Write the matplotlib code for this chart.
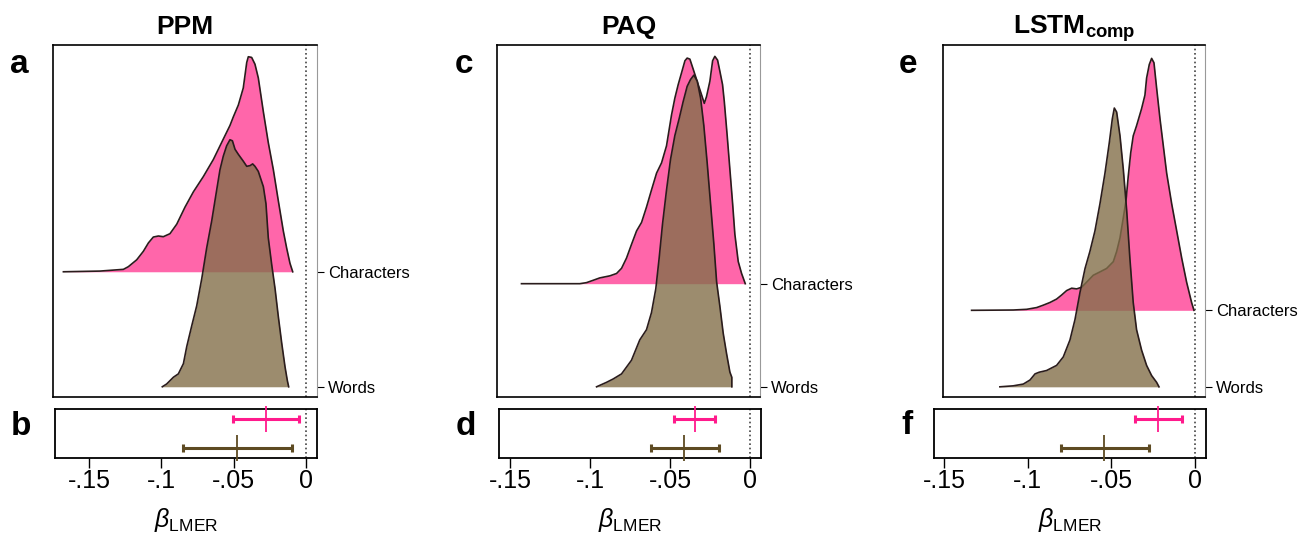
import numpy as np
import matplotlib.pyplot as plt

plt.rcParams['font.family'] = ['Liberation Sans', 'DejaVu Sans']
plt.rcParams['mathtext.fontset'] = 'custom'
plt.rcParams['mathtext.rm'] = 'Liberation Sans'
plt.rcParams['mathtext.it'] = 'Liberation Sans:italic'
plt.rcParams['mathtext.bf'] = 'Liberation Sans:bold'

# ---- data: ridge densities (x = beta, h = height in row units) ----
ppm_char_x = [-0.1678, -0.1425, -0.1263, -0.1229, -0.1171, -0.1125, -0.1090, -0.1056, -0.1021, -0.0987,
              -0.0941, -0.0894, -0.0837, -0.0779, -0.0710, -0.0641, -0.0572, -0.0526, -0.0503, -0.0468,
              -0.0434, -0.0410, -0.0399, -0.0376, -0.0353, -0.0330, -0.0295, -0.0261, -0.0226, -0.0192,
              -0.0157, -0.0134, -0.0111, -0.0092]
ppm_char_h = [0, 0.006, 0.021, 0.044, 0.104, 0.178, 0.251, 0.302, 0.311, 0.305,
              0.331, 0.414, 0.562, 0.695, 0.828, 0.976, 1.154, 1.272, 1.346, 1.450,
              1.598, 1.820, 1.870, 1.864, 1.805, 1.686, 1.391, 1.124, 0.888, 0.621,
              0.355, 0.207, 0.074, 0]
ppm_word_x = [-0.0994, -0.0964, -0.0917, -0.0883, -0.0848, -0.0825, -0.0791, -0.0756, -0.0721, -0.0687,
              -0.0652, -0.0618, -0.0595, -0.0572, -0.0549, -0.0526, -0.0509, -0.0491, -0.0468, -0.0434,
              -0.0410, -0.0387, -0.0369, -0.0353, -0.0330, -0.0295, -0.0277, -0.0261, -0.0237, -0.0214,
              -0.0192, -0.0168, -0.0145, -0.0129, -0.0120]
ppm_word_h = [0, 0.024, 0.083, 0.112, 0.201, 0.349, 0.527, 0.704, 0.941, 1.207,
              1.444, 1.710, 1.888, 2.006, 2.095, 2.148, 2.139, 2.065, 2.021, 1.962,
              1.917, 1.923, 1.938, 1.917, 1.873, 1.740, 1.592, 1.296, 1.059, 0.852,
              0.615, 0.379, 0.172, 0.053, 0]

paq_char_x = [-0.1427, -0.1063, -0.1021, -0.0979, -0.0938, -0.0875, -0.0833, -0.0802, -0.0771, -0.0740,
              -0.0708, -0.0677, -0.0646, -0.0615, -0.0583, -0.0552, -0.0521, -0.0490, -0.0469, -0.0448,
              -0.0427, -0.0406, -0.0392, -0.0375, -0.0354, -0.0323, -0.0302, -0.0285, -0.0271, -0.0250,
              -0.0233, -0.0219, -0.0202, -0.0188, -0.0171, -0.0160, -0.0142, -0.0125, -0.0108, -0.0094,
              -0.0073, -0.0052, -0.0029]
paq_char_h = [0, 0, 0.010, 0.033, 0.056, 0.076, 0.099, 0.149, 0.248, 0.380,
              0.512, 0.594, 0.743, 0.908, 1.073, 1.172, 1.337, 1.634, 1.799, 1.931,
              2.046, 2.162, 2.188, 2.178, 2.079, 1.931, 1.832, 1.749, 1.815, 1.964,
              2.162, 2.205, 2.168, 2.063, 1.931, 1.766, 1.436, 1.106, 0.776, 0.479,
              0.215, 0.099, 0]
paq_word_x = [-0.0958, -0.0896, -0.0854, -0.0802, -0.0740, -0.0688, -0.0646, -0.0615, -0.0588, -0.0567,
              -0.0546, -0.0521, -0.0496, -0.0469, -0.0442, -0.0417, -0.0392, -0.0371, -0.0350, -0.0329,
              -0.0308, -0.0288, -0.0267, -0.0246, -0.0225, -0.0208, -0.0188, -0.0167, -0.0146, -0.0125,
              -0.0113, -0.0113]
paq_word_h = [0, 0.043, 0.076, 0.125, 0.257, 0.455, 0.554, 0.719, 0.950, 1.248,
              1.578, 1.908, 2.205, 2.436, 2.601, 2.766, 2.914, 2.980, 3.023, 2.964,
              2.799, 2.535, 2.172, 1.776, 1.380, 1.017, 0.785, 0.521, 0.323, 0.142,
              0.092, 0]

lstm_char_x = [-0.1335, -0.1086, -0.1006, -0.0946, -0.0907, -0.0867, -0.0827, -0.0797, -0.0767, -0.0737,
               -0.0707, -0.0677, -0.0647, -0.0608, -0.0568, -0.0528, -0.0488, -0.0468, -0.0448, -0.0428,
               -0.0412, -0.0399, -0.0384, -0.0369, -0.0349, -0.0319, -0.0299, -0.0289, -0.0273, -0.0259,
               -0.0245, -0.0229, -0.0209, -0.0189, -0.0169, -0.0139, -0.0109, -0.0079, -0.0050, -0.0020,
               -0.0006]
lstm_char_h = [0, 0.004, 0.013, 0.036, 0.067, 0.102, 0.147, 0.200, 0.258, 0.289,
               0.280, 0.302, 0.369, 0.458, 0.502, 0.547, 0.636, 0.769, 0.947, 1.213,
               1.436, 1.747, 2.058, 2.280, 2.413, 2.636, 2.813, 3.036, 3.213, 3.293,
               3.236, 2.902, 2.502, 2.147, 1.791, 1.391, 1.036, 0.680, 0.369, 0.102,
               0]
lstm_word_x = [-0.1166, -0.1086, -0.1026, -0.0986, -0.0956, -0.0931, -0.0887, -0.0827, -0.0787, -0.0747,
               -0.0717, -0.0687, -0.0657, -0.0628, -0.0598, -0.0568, -0.0538, -0.0512, -0.0494, -0.0482,
               -0.0468, -0.0448, -0.0428, -0.0408, -0.0389, -0.0369, -0.0349, -0.0319, -0.0289, -0.0259,
               -0.0229, -0.0215]
lstm_word_h = [0, 0.013, 0.036, 0.089, 0.169, 0.191, 0.213, 0.280, 0.391, 0.613,
               0.880, 1.236, 1.547, 1.769, 2.036, 2.391, 2.791, 3.191, 3.502, 3.644,
               3.591, 3.280, 2.836, 2.302, 1.680, 1.102, 0.747, 0.480, 0.280, 0.147,
               0.058, 0]

# ---- data: LMER estimates with intervals [characters, words] ----
ppm_est = [-0.0276, -0.0477]
ppm_lo = [-0.0505, -0.0850]
ppm_hi = [-0.0048, -0.0097]
paq_est = [-0.0344, -0.0413]
paq_lo = [-0.0475, -0.0620]
paq_hi = [-0.0219, -0.0194]
lstm_est = [-0.0221, -0.0544]
lstm_lo = [-0.0359, -0.0800]
lstm_hi = [-0.0078, -0.0275]

row_labels = ['Characters', 'Words']
xtick_vals = [-0.15, -0.1, -0.05, 0]
xtick_labels = ['-.15', '-.1', '-.05', '0']

PINK = '#FF66AA'
BROWN = '#836F4A'
EDGE = '#2A1C1C'
ERR_PINK = '#FF1A8C'
ERR_BROWN = '#5E4B23'
DOT = '#444444'

W, H = 1311, 533
fig = plt.figure(figsize=(W / 100, H / 100), dpi=100)


def box(x0, y0, x1, y1):
    return [x0 / W, 1 - y1 / H, (x1 - x0) / W, (y1 - y0) / H]


panels = [
    dict(title='PPM', letters=('a', 'b'), lpos=((10, 73), (11, 435)),
         top=(53, 45, 317, 397), bot=(55, 409, 317, 458),
         txlim=(-0.175, 0.0076), bxlim=(-0.1736, 0.0076), tylim=(-0.089, 2.972),
         char=(ppm_char_x, ppm_char_h), word=(ppm_word_x, ppm_word_h),
         err=(ppm_est, ppm_lo, ppm_hi)),
    dict(title='PAQ', letters=('c', 'd'), lpos=((455, 73), (456, 435)),
         top=(497, 45, 760, 397), bot=(499, 409, 761, 458),
         txlim=(-0.158, 0.0063), bxlim=(-0.157, 0.0069), tylim=(-0.099, 3.315),
         char=(paq_char_x, paq_char_h), word=(paq_word_x, paq_word_h),
         err=(paq_est, paq_lo, paq_hi)),
    dict(title='LSTM$_{\\mathbf{comp}}$', letters=('e', 'f'), lpos=((899, 73), (901, 434)),
         top=(943, 45, 1205, 397), bot=(934, 409, 1206, 458),
         txlim=(-0.1506, 0.0060), bxlim=(-0.156, 0.0066), tylim=(-0.133, 4.468),
         char=(lstm_char_x, lstm_char_h), word=(lstm_word_x, lstm_word_h),
         err=(lstm_est, lstm_lo, lstm_hi)),
]

for p in panels:
    # ridgeline densities
    ax = fig.add_axes(box(*p['top']))
    cx, ch = np.array(p['char'][0]), np.array(p['char'][1])
    wx, wh = np.array(p['word'][0]), np.array(p['word'][1])
    ax.fill_between(cx, 1, 1 + ch, color=PINK, lw=0, zorder=2)
    ax.plot(cx, 1 + ch, color=EDGE, lw=1.2, zorder=3)
    ax.fill_between(wx, 0, wh, color=BROWN, alpha=0.8, lw=0, zorder=4)
    ax.plot(wx, wh, color=EDGE, lw=1.2, zorder=5)
    ax.axvline(0, color=DOT, ls=(0, (1, 1.6)), lw=1.2, zorder=1)
    ax.set_xlim(*p['txlim'])
    ax.set_ylim(*p['tylim'])
    ax.set_xticks([])
    ax.yaxis.tick_right()
    ax.set_yticks([1, 0], row_labels)
    ax.tick_params(axis='y', direction='out', length=5, width=0.8, labelsize=12, pad=3)
    for s in ['left', 'top', 'bottom']:
        ax.spines[s].set_linewidth(1.2)
    ax.spines['right'].set_color('#999999')
    ax.set_title(p['title'], fontsize=19, fontweight='bold', pad=8)

    # estimates with intervals
    bx = fig.add_axes(box(*p['bot']))
    est, lo, hi = p['err']
    for yy, e, l, h, col in [(2, est[0], lo[0], hi[0], ERR_PINK), (1, est[1], lo[1], hi[1], ERR_BROWN)]:
        bx.errorbar(e, yy, xerr=[[e - l], [h - e]], fmt='none', ecolor=col,
                    elinewidth=2.2, capsize=3, capthick=2.2)
        bx.plot(e, yy, marker='|', ms=19, mew=1.3, color=col, clip_on=False, zorder=5)
    bx.axvline(0, color=DOT, ls=(0, (1, 1.6)), lw=1.2, zorder=1)
    bx.set_xlim(*p['bxlim'])
    bx.set_ylim(0.655, 2.345)
    bx.set_yticks([])
    bx.set_xticks(xtick_vals, xtick_labels)
    bx.tick_params(axis='x', length=7, width=1, labelsize=18, pad=1)
    for s in bx.spines.values():
        s.set_linewidth(1.3)
    bx.set_xlabel(r'$\beta_{\mathrm{LMER}}$', fontsize=18, labelpad=9)

    for letter, (lx, ly) in zip(p['letters'], p['lpos']):
        fig.text(lx / W, 1 - ly / H, letter, fontsize=24, fontweight='bold',
                 ha='left', va='baseline')

fig.savefig('out.png', dpi=100)
